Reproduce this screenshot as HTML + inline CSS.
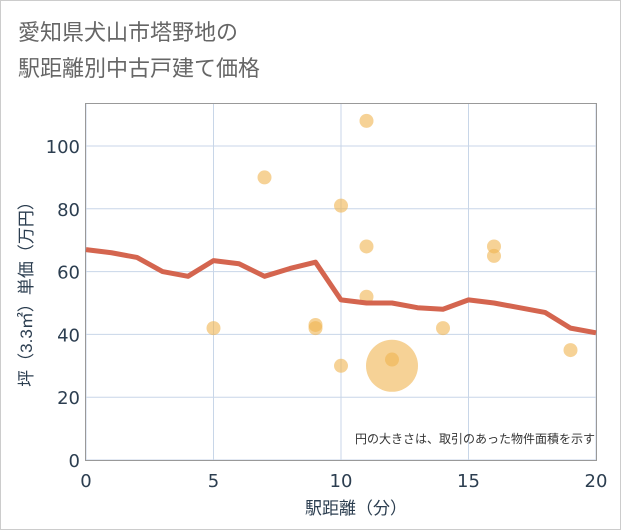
<!DOCTYPE html>
<html><head><meta charset="utf-8"><style>
body{margin:0;background:#fff;}
svg{display:block;font-family:"Liberation Sans","Noto Sans CJK JP",sans-serif;}
.tk{font-family:"DejaVu Sans","Liberation Sans",sans-serif;}
</style></head><body>
<svg id="c" width="621" height="530">
<rect x="0.5" y="0.5" width="620" height="529" fill="#fff" stroke="#ccc"/>
<text x="18" y="40" font-size="22" fill="#666" font-family="DejaVu Sans, Noto Sans CJK JP, sans-serif">愛知県犬山市塔野地の</text>
<text x="18" y="76" font-size="22" fill="#666" font-family="DejaVu Sans, Noto Sans CJK JP, sans-serif">駅距離別中古戸建て価格</text>
<g id="grid"></g>
<rect x="85.5" y="103.5" width="511" height="357" fill="none" stroke="#999"/>
<g id="marks"></g>
<text x="595" y="443" font-size="12" fill="#333" text-anchor="end">円の大きさは、取引のあった物件面積を示す</text>
<text x="356" y="514" font-size="17" fill="#2c3e50" text-anchor="middle">駅距離（分）</text>
<text transform="translate(32,290) rotate(-90)" font-size="17" fill="#2c3e50" text-anchor="middle">坪（3.3㎡）単価（万円）</text>
</svg>
<script>
const xTicks=[0,5,10,15,20];
const yTicks=[0,20,40,60,80,100];
const lineX=[0,1,2,3,4,5,6,7,8,9,10,11,12,13,14,15,16,17,18,19,20];
const lineY=[67,66,64.5,60,58.5,63.5,62.5,58.5,61,63,51,50,50,48.5,48,51,50,48.5,47,42,40.5];
const ptX=[5,7,9,9,10,10,11,11,11,12,12,14,16,16,19];
const ptY=[42,90,42,43,81,30,108,68,52,30,32,42,68,65,35];
const ptR=[7,7,7,7,7,7,7,7,7,26,7,7,7,7,7];
const NS="http://www.w3.org/2000/svg";
const X0=86,X1=596,Y0=460,Y100=146;
const sx=v=>X0+(X1-X0)*v/20;
const sy=v=>Y0-(Y0-Y100)*v/100;
const grid=document.getElementById('grid'),marks=document.getElementById('marks'),svg=document.getElementById('c');
function mk(tag,attrs,parent){const e=document.createElementNS(NS,tag);for(const k in attrs)e.setAttribute(k,attrs[k]);parent.appendChild(e);return e;}
xTicks.forEach(t=>{
 const l=mk('line',{x1:sx(t),x2:sx(t),y1:103,y2:460,stroke:'#c8d6e8'},grid);
 
 
 const tx=mk('text',{x:sx(t),y:487,'font-size':18,fill:'#2c3e50','text-anchor':'middle','class':'tk'},svg);
 tx.textContent=t;
 
 
});
yTicks.forEach(t=>{
 const l=mk('line',{x1:85,x2:596,y1:sy(t),y2:sy(t),stroke:'#c8d6e8'},grid);
 
 
 const tx=mk('text',{x:80,y:sy(t)+7,'font-size':18,fill:'#2c3e50','text-anchor':'end','class':'tk'},svg);
 tx.textContent=t;
 
 
});
ptX.forEach((v,i)=>{
 const c=mk('circle',{cx:sx(v),cy:sy(ptY[i]),r:ptR[i],fill:'#f0b450','fill-opacity':0.6},marks);
 
 
});
const p=mk('polyline',{points:lineX.map((v,i)=>sx(v)+','+sy(lineY[i])).join(' '),fill:'none',stroke:'#d4654f','stroke-width':5,'stroke-linejoin':'round'},marks);


</script>
</body></html>
